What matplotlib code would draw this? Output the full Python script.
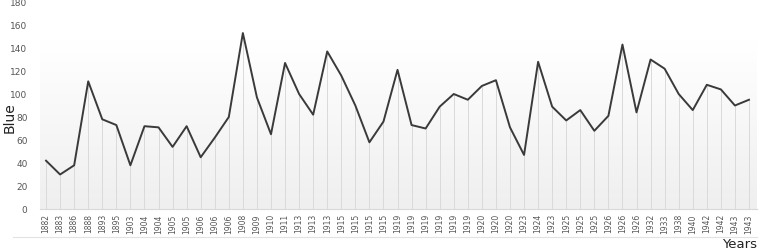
import numpy as np
import matplotlib
matplotlib.use("Agg")
import matplotlib.pyplot as plt
from matplotlib.lines import Line2D

years = ["1882", "1883", "1886", "1888", "1893", "1895", "1903", "1904", "1904", "1905",
         "1905", "1906", "1906", "1906", "1908", "1909", "1910", "1911", "1913", "1913",
         "1913", "1915", "1915", "1915", "1915", "1919", "1919", "1919", "1919", "1919",
         "1919", "1920", "1920", "1920", "1923", "1924", "1923", "1925", "1925", "1925",
         "1926", "1926", "1926", "1932", "1933", "1938", "1940", "1942", "1942", "1943",
         "1943"]
blue = [42, 30, 38, 111, 78, 73, 38, 72, 71, 54,
        72, 45, 62, 80, 153, 97, 65, 127, 100, 82,
        137, 116, 90, 58, 76, 121, 73, 70, 89, 100,
        95, 107, 112, 71, 47, 128, 89, 77, 86, 68,
        81, 143, 84, 130, 122, 100, 86, 108, 104, 90,
        95]
yticks = [0, 20, 40, 60, 80, 100, 120, 140, 160, 180]

W, H = 765, 253
fig = plt.figure(figsize=(W / 100, H / 100), dpi=100)
ax = fig.add_axes([40 / W, 1 - 210 / H, (757 - 40) / W, (210 - 3) / H])

x = np.arange(len(blue))
x0, x1 = -0.43, len(blue) - 1 + 0.57

# background gradient (white top, light gray bottom)
grad = np.linspace(0, 1, 256).reshape(-1, 1)
cmap = matplotlib.colors.LinearSegmentedColormap.from_list("g", ["#ffffff", "#efefef"])
ax.imshow(grad, aspect="auto", cmap=cmap, extent=(x0, x1, 0, 146),
          origin="upper", zorder=0)
ax.set_xlim(x0, x1)
ax.set_ylim(0, 180)

ax.vlines(x, 0, blue, color="#dadada", lw=0.7, zorder=1)
ax.plot(x, blue, color="#3a3a3a", lw=1.4, zorder=3)

for s in ["top", "right", "left"]:
    ax.spines[s].set_visible(False)
ax.spines["bottom"].set_color("#d8d8d8")
ax.spines["bottom"].set_linewidth(0.8)

ax.set_yticks(yticks)
ax.set_yticklabels([str(v) for v in yticks], fontsize=6.5, color="#555555")
ax.tick_params(axis="y", length=0, pad=9)
ax.set_xticks(x)
ax.set_xticklabels(years, rotation=90, fontsize=5.5, color="#555555")
ax.tick_params(axis="x", length=0, pad=3)

fig.text(10 / W, 1 - 118 / H, "Blue", rotation=90, fontsize=10, color="#222222",
         ha="center", va="center")
fig.text(757 / W, 1 - 245 / H, "Years", fontsize=9.5, color="#222222",
         ha="right", va="center")
fig.add_artist(Line2D([13 / W, 757 / W], [1 - 238 / H, 1 - 238 / H],
                      color="#e2e2e2", lw=0.8))

fig.savefig("out.png", dpi=100)
